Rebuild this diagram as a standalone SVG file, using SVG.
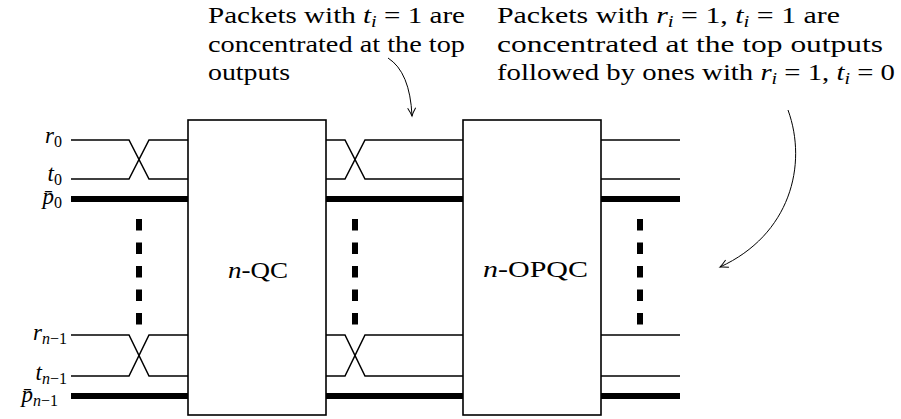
<svg xmlns="http://www.w3.org/2000/svg" width="901" height="419" viewBox="0 0 901 419">
<defs>
<style>
.t{font-family:"Liberation Serif","Times New Roman",serif;font-size:23px;fill:#000}
.m{font-style:italic}
.s{font-size:16px}
.w{fill:none;stroke:#000;stroke-width:1.5}
.k{fill:none;stroke:#000;stroke-width:6}
.d{fill:none;stroke:#000;stroke-width:6;stroke-dasharray:11.5 12}
.box{fill:#fff;stroke:#000;stroke-width:1.6}
.a{fill:none;stroke:#000;stroke-width:1}
</style>
<marker id="ah" viewBox="-10 -6 12 12" refX="0" refY="0" markerWidth="12" markerHeight="12" markerUnits="userSpaceOnUse" orient="auto">
<path d="M-8,-4 Q-3,-1 0,0 Q-3,1 -8,4" fill="none" stroke="#000" stroke-width="1"/>
</marker>
</defs>

<g id="connectors">
<path class="w" d="M71,140 H129 L149,179 H188"/>
<path class="w" d="M71,179 H129 L149,140 H188"/>
<path class="k" d="M71,199 H188"/>
<path class="w" d="M71,335 H129 L149,376 H188"/>
<path class="w" d="M71,376 H129 L149,335 H188"/>
<path class="k" d="M71,396 H188"/>
<path class="d" d="M139,219 V325"/>
<path class="w" d="M326,140 H345 L365,179 H463"/>
<path class="w" d="M326,179 H345 L365,140 H463"/>
<path class="k" d="M326,199 H463"/>
<path class="w" d="M326,335 H345 L365,376 H463"/>
<path class="w" d="M326,376 H345 L365,335 H463"/>
<path class="k" d="M326,396 H463"/>
<path class="d" d="M355,219 V325"/>
<path class="w" d="M601,140 H680"/>
<path class="w" d="M601,179 H680"/>
<path class="k" d="M601,199 H680"/>
<path class="w" d="M601,335 H680"/>
<path class="w" d="M601,376 H680"/>
<path class="k" d="M601,396 H680"/>
<path class="d" d="M640,219 V325"/>
<path class="a" d="M388,58 Q410,72 412,116" marker-end="url(#ah)"/>
<path class="a" d="M788,110 C808,165 790,235 720,267" marker-end="url(#ah)"/>
</g>

<g id="qc">
<rect class="box" x="188" y="120" width="138" height="295"/>
<text class="t" x="228" y="278" textLength="60" lengthAdjust="spacingAndGlyphs"><tspan class="m">n</tspan>-QC</text>
</g>

<g id="opqc">
<rect class="box" x="463" y="120" width="138" height="295"/>
<text class="t" x="483" y="277" textLength="105" lengthAdjust="spacingAndGlyphs"><tspan class="m">n</tspan>-OPQC</text>
</g>

<g id="labels">
<text class="t" x="62" y="143" text-anchor="end"><tspan class="m">r</tspan><tspan class="s" dy="4">0</tspan></text>
<text class="t" x="62" y="181" text-anchor="end"><tspan class="m">t</tspan><tspan class="s" dy="4">0</tspan></text>
<text class="t" x="62" y="204" text-anchor="end"><tspan class="m">p̄</tspan><tspan class="s" dy="4">0</tspan></text>
<text class="t" x="67" y="340" text-anchor="end"><tspan class="m">r</tspan><tspan class="s" dy="4"><tspan class="m">n</tspan>−1</tspan></text>
<text class="t" x="67" y="380" text-anchor="end"><tspan class="m">t</tspan><tspan class="s" dy="4"><tspan class="m">n</tspan>−1</tspan></text>
<text class="t" x="58" y="402" text-anchor="end"><tspan class="m">p̄</tspan><tspan class="s" dy="4"><tspan class="m">n</tspan>−1</tspan></text>
</g>

<g id="note1">
<text class="t" x="208" y="23" textLength="257" lengthAdjust="spacingAndGlyphs">Packets with <tspan class="m">t</tspan><tspan class="s m" dy="4">i</tspan><tspan dy="-4"> = 1 are</tspan></text>
<text class="t" x="208" y="52" textLength="257" lengthAdjust="spacingAndGlyphs">concentrated at the top</text>
<text class="t" x="208" y="80" textLength="82" lengthAdjust="spacingAndGlyphs">outputs</text>
</g>

<g id="note2">
<text class="t" x="497" y="23" textLength="343" lengthAdjust="spacingAndGlyphs">Packets with <tspan class="m">r</tspan><tspan class="s m" dy="4">i</tspan><tspan dy="-4"> = 1, </tspan><tspan class="m">t</tspan><tspan class="s m" dy="4">i</tspan><tspan dy="-4"> = 1 are</tspan></text>
<text class="t" x="497" y="52" textLength="386" lengthAdjust="spacingAndGlyphs">concentrated at the top outputs</text>
<text class="t" x="497" y="80" textLength="398" lengthAdjust="spacingAndGlyphs">followed by ones with <tspan class="m">r</tspan><tspan class="s m" dy="4">i</tspan><tspan dy="-4"> = 1, </tspan><tspan class="m">t</tspan><tspan class="s m" dy="4">i</tspan><tspan dy="-4"> = 0</tspan></text>
</g>
</svg>
